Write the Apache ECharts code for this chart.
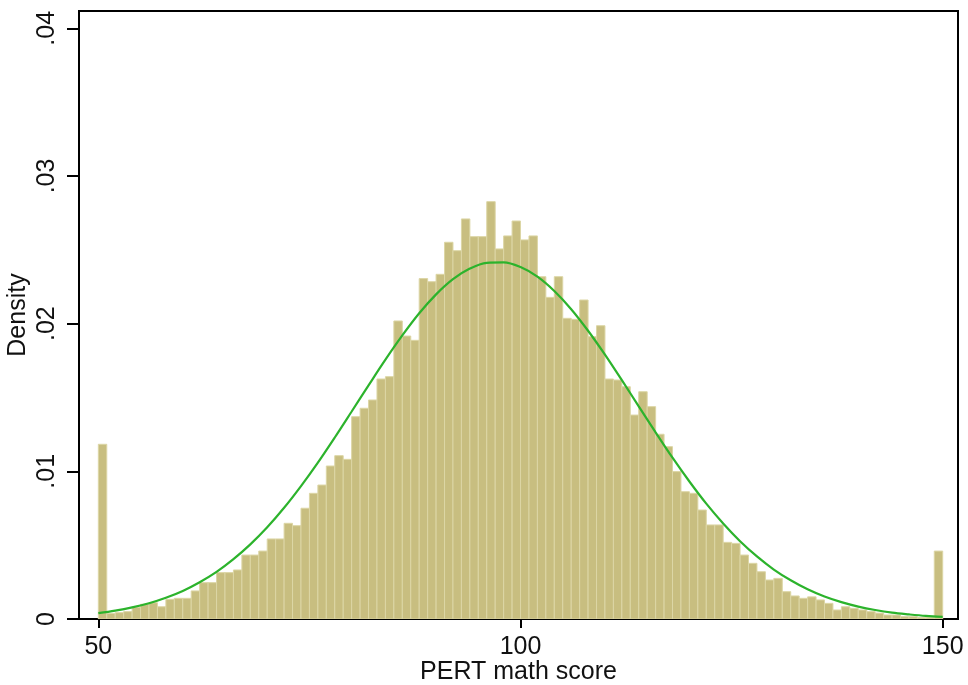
<!DOCTYPE html>
<html>
<head>
<meta charset="utf-8">
<script src="https://cdn.jsdelivr.net/npm/echarts@6/dist/echarts.min.js"></script>
<style>
  html, body { margin: 0; padding: 0; background: #fff; }
  #chart { width: 968px; height: 685px; }
</style>
</head>
<body>
<div id="chart"></div>
<script>
// Histogram of PERT math scores (density, bins of width 1 starting at 50)
const binStart = 50;
const binWidth = 1;
const density = [
  0.01183, 0.00038, 0.00043, 0.00050, 0.00080, 0.00100, 0.00110, 0.00083, 0.00133, 0.00140,
  0.00140, 0.00190, 0.00246, 0.00246, 0.00314, 0.00314, 0.00332, 0.00433, 0.00433, 0.00460,
  0.00542, 0.00542, 0.00648, 0.00632, 0.00750, 0.00851, 0.00907, 0.01036, 0.01106, 0.01081,
  0.01370, 0.01427, 0.01483, 0.01625, 0.01641, 0.02018, 0.01916, 0.01887, 0.02305, 0.02284,
  0.02334, 0.02551, 0.02494, 0.02709, 0.02589, 0.02589, 0.02826, 0.02506, 0.02594, 0.02695,
  0.02567, 0.02594, 0.02318, 0.02178, 0.02318, 0.02036, 0.02029, 0.02160, 0.01912, 0.01986,
  0.01625, 0.01618, 0.01573, 0.01381, 0.01539, 0.01438, 0.01251, 0.01167, 0.00998, 0.00862,
  0.00851, 0.00738, 0.00637, 0.00637, 0.00519, 0.00512, 0.00433, 0.00377, 0.00320, 0.00264,
  0.00275, 0.00185, 0.00156, 0.00140, 0.00150, 0.00129, 0.00106, 0.00061, 0.00083, 0.00072,
  0.00061, 0.00050, 0.00040, 0.00027, 0.00027, 0.00016, 0.00016, 0.00010, 0.00010, 0.00460
];

// Normal density overlay
const curveX = [
  50, 52, 54, 56, 58, 60, 62, 64, 66, 68, 70, 72, 74, 76, 78, 80, 82, 84, 86, 88,
  90, 92, 94, 96, 98, 100, 102, 104, 106, 108, 110, 112, 114, 116, 118, 120, 122, 124, 126, 128,
  130, 132, 134, 136, 138, 140, 142, 144, 146, 148, 150
];
const curveY = [
  0.00040, 0.00057, 0.00079, 0.00107, 0.00144, 0.00190, 0.00249, 0.00319, 0.00405, 0.00505,
  0.00621, 0.00753, 0.00900, 0.01059, 0.01229, 0.01405, 0.01582, 0.01756, 0.01920, 0.02070,
  0.02198, 0.02301, 0.02373, 0.02412, 0.02415, 0.02383, 0.02318, 0.02221, 0.02098, 0.01952,
  0.01790, 0.01617, 0.01440, 0.01264, 0.01092, 0.00931, 0.00781, 0.00647, 0.00527, 0.00424,
  0.00335, 0.00262, 0.00201, 0.00152, 0.00114, 0.00084, 0.00061, 0.00043, 0.00031, 0.00021,
  0.00015
];

// Axis ticks and labels
const xTickValues = [50, 100, 150];
const xTickLabels = ['50', '100', '150'];
const yTickValues = [0, 0.01, 0.02, 0.03, 0.04];
const yTickLabels = ['0', '.01', '.02', '.03', '.04'];

const barData = density.map((v, i) => [binStart + i * binWidth, binStart + (i + 1) * binWidth, v]);
const curveData = curveX.map((x, i) => [x, curveY[i]]);

const FONT = '"Liberation Sans", Arial, sans-serif';
const TEXT = '#111';

const chart = echarts.init(document.getElementById('chart'), null, { renderer: 'canvas' });

function labelFor(values, labels) {
  return function (v) {
    for (let i = 0; i < values.length; i++) {
      if (Math.abs(values[i] - v) < 1e-9) return labels[i];
    }
    return '';
  };
}

chart.setOption({
  animation: false,
  backgroundColor: '#fff',
  grid: {
    left: 79, right: 10, top: 11, bottom: 66,
    containLabel: false,
    outerBoundsMode: 'none',
    show: true, borderColor: '#000', borderWidth: 2, backgroundColor: '#fff'
  },
  xAxis: {
    type: 'value',
    min: 47.71, max: 151.81,
    name: 'PERT math score',
    nameLocation: 'middle',
    nameGap: 41,
    nameMoveOverlap: false,
    nameTextStyle: { fontFamily: FONT, fontSize: 25, color: TEXT },
    axisLine: { show: true, onZero: false, lineStyle: { color: '#000', width: 2 } },
    axisTick: { show: true, length: 9, customValues: xTickValues, lineStyle: { color: '#000', width: 2 } },
    axisLabel: {
      customValues: xTickValues,
      formatter: labelFor(xTickValues, xTickLabels),
      fontFamily: FONT, fontSize: 25, color: TEXT, margin: 16
    },
    splitLine: { show: false }
  },
  yAxis: {
    type: 'value',
    min: 0, max: 0.04117,
    name: 'Density',
    nameLocation: 'middle',
    nameGap: 48,
    nameRotate: 90,
    nameMoveOverlap: false,
    nameTextStyle: { fontFamily: FONT, fontSize: 25, color: TEXT },
    axisLine: { show: true, onZero: false, lineStyle: { color: '#000', width: 2 } },
    axisTick: { show: true, length: 12, customValues: yTickValues, lineStyle: { color: '#000', width: 2 } },
    axisLabel: {
      customValues: yTickValues,
      formatter: labelFor(yTickValues, yTickLabels),
      rotate: 90,
      fontFamily: FONT, fontSize: 25, color: TEXT, margin: 19
    },
    splitLine: { show: false }
  },
  series: [
    {
      type: 'custom',
      name: 'density',
      data: barData,
      clip: true,
      z: 2,
      renderItem: function (params, api) {
        const top = api.coord([api.value(0), api.value(2)]);
        const base = api.coord([api.value(1), 0]);
        return {
          type: 'rect',
          shape: { x: top[0], y: top[1], width: base[0] - top[0], height: base[1] - top[1] },
          style: { fill: '#c8be80', stroke: '#dcd6a5', lineWidth: 1 }
        };
      }
    },
    {
      type: 'line',
      name: 'normal',
      data: curveData,
      smooth: 0.35,
      symbol: 'none',
      z: 3,
      lineStyle: { color: '#2cb32c', width: 2.2 }
    }
  ]
});
</script>
</body>
</html>
